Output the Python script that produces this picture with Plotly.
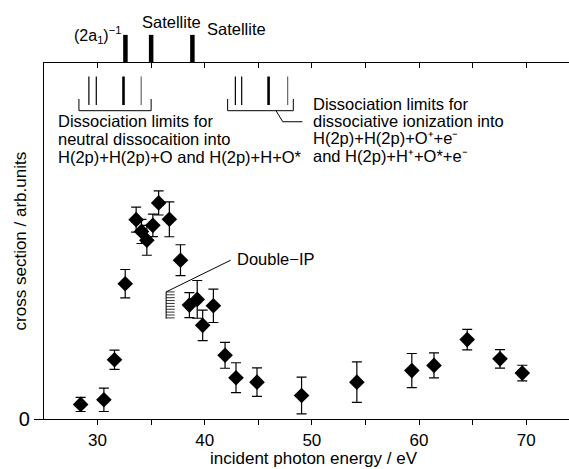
import plotly.graph_objects as go

# ---- data ----
energy = [28.42, 30.59, 31.58, 32.58, 33.6, 34.1, 34.6, 35.16, 35.7, 36.7, 37.74,
          38.57, 39.3, 39.81, 40.81, 41.9, 42.92, 44.88, 49.04, 54.2, 59.33, 61.4,
          64.5, 67.56, 69.64]
cross_section = [4.1, 5.4, 16.65, 38.0, 56.0, 52.7, 50.2, 54.4, 60.7, 56.1, 44.6,
                 32.0, 33.6, 26.3, 31.8, 17.9, 11.6, 10.35, 6.6, 10.35, 13.6, 15.05,
                 22.3, 16.9, 12.9]
error = [2.0, 3.3, 2.7, 4.0, 3.5, 3.4, 4.2, 3.15, 3.4, 4.9, 4.35, 3.5, 5.3, 4.3,
         4.7, 3.65, 4.2, 4.0, 5.15, 5.7, 4.8, 3.5, 2.9, 2.6, 2.2]

x_tickvals = [30, 40, 50, 60, 70]
x_ticktext = ["30", "40", "50", "60", "70"]
x_minor_vals = [30, 35, 40, 45, 50, 55, 60, 65, 70]
top_tickvals = [30, 35, 40, 45, 50, 55, 60, 65, 70]

# ionization energies marked above the plot
ion_energies = [32.6, 35.0, 38.85]
# dissociation limits (eV): neutral / dissociative ionization
neutral_limits = [29.19, 29.88, 32.42, 34.07]
ionic_limits = [42.86, 43.45, 45.96, 47.74]
limit_widths = [1.2, 1.2, 2.6, 1.2]
limit_colors = ["black", "black", "black", "#666666"]
neutral_bracket = [28.26, 35.0]
ionic_bracket = [42.14, 48.27]
double_ip = 36.4

FONT = "Arial, Liberation Sans, Helvetica, sans-serif"

fig = go.Figure()
fig.add_trace(go.Scatter(
    x=energy, y=cross_section, mode="markers",
    marker=dict(symbol="diamond", size=12, color="black"),
    error_y=dict(type="data", array=error, visible=True, color="black",
                 thickness=1.2, width=5),
    showlegend=False, hoverinfo="skip"))
# invisible trace so the top axis is drawn
fig.add_trace(go.Scatter(x=[30], y=[0], xaxis="x2", mode="markers",
                         marker=dict(opacity=0), showlegend=False, hoverinfo="skip"))

shapes = []
# thick bars above the top axis
for e in ion_energies:
    shapes.append(dict(type="line", xref="x", yref="paper", x0=e, x1=e,
                       y0=1.0, y1=1.079, line=dict(color="black", width=4.5)))
# dissociation limit lines
for group in (neutral_limits, ionic_limits):
    for e, w, c in zip(group, limit_widths, limit_colors):
        shapes.append(dict(type="line", xref="x", yref="y", x0=e, x1=e,
                           y0=88.2, y1=96.2, line=dict(color=c, width=w)))
# brackets
for b0, b1 in (neutral_bracket, ionic_bracket):
    shapes.append(dict(type="path", xref="x", yref="y",
                       path=f"M {b0},89.9 L {b0},86.6 L {b1},86.6 L {b1},89.9",
                       line=dict(color="black", width=1)))
# leader line for the ionic bracket
shapes.append(dict(type="path", xref="x", yref="y",
                   path="M 46.66,86.6 L 47.28,83.5 L 49.12,83.5",
                   line=dict(color="black", width=1)))
# Double-IP marker: vertical line + hatch + diagonal leader
shapes.append(dict(type="line", xref="x", yref="y", x0=double_ip, x1=double_ip,
                   y0=28.2, y1=35.7, line=dict(color="black", width=1)))
shapes.append(dict(type="line", xref="x", yref="y", x0=double_ip, x1=42.42,
                   y0=35.7, y1=44.6, line=dict(color="black", width=1)))
n_hatch = 10
for i in range(n_hatch):
    yy = 28.4 + i * (35.7 - 28.4) / (n_hatch - 1)
    shapes.append(dict(type="line", xref="x", yref="y", x0=double_ip,
                       x1=double_ip + 0.8, y0=yy, y1=yy,
                       line=dict(color="black", width=0.8)))

ann = []
def txt(x, y, s, size=16.5, xanchor="left", xref="x", yref="y", yanchor="middle",
        angle=0, pad=1):
    ann.append(dict(x=x, y=y, xref=xref, yref=yref, text=s, showarrow=False,
                    xanchor=xanchor, yanchor=yanchor, textangle=angle, borderpad=pad,
                    font=dict(family=FONT, size=size, color="black")))

txt(32.33, 1.08, "(2a<sub>1</sub>)<sup>−1</sup>", size=16, xanchor="right", yref="paper")
txt(33.92, 1.115, "Satellite", yref="paper")
txt(40.07, 1.096, "Satellite", yref="paper")

left_lines = ["Dissociation limits for", "neutral dissocaition into",
              "H(2p)+H(2p)+O and H(2p)+H+O*"]
for i, s in enumerate(left_lines):
    txt(26.18, 83.6 - i * 5.0, s, pad=0)
right_lines = ["Dissociation limits for", "dissociative ionization into",
               "H(2p)+H(2p)+O\u207a+e\u207b",
               "and H(2p)+H\u207a+O*+e\u207b"]
for i, s in enumerate(right_lines):
    txt(50.05, 88.4 - i * 4.8, s, pad=0)

txt(42.87, 44.9, "Double−IP")

# axis titles
txt(0.514, -0.1405, "incident photon energy / eV", size=17, xanchor="center",
    xref="paper", yref="paper", yanchor="bottom", pad=0)
txt(-0.045, 0.5, "cross section / arb.units", size=17, xanchor="center",
    xref="paper", yref="paper", angle=-90)

fig.update_layout(
    width=569, height=469,
    margin=dict(l=44, r=0, t=63, b=50),
    plot_bgcolor="white", paper_bgcolor="white",
    font=dict(family=FONT, color="black"),
    shapes=shapes, annotations=ann,
    xaxis=dict(range=[25, 74], showline=True, linecolor="black", linewidth=1.3,
               ticks="outside", ticklen=5, tickwidth=1.2, tickcolor="black",
               tickvals=x_tickvals, ticktext=x_ticktext,
               minor=dict(tickvals=x_minor_vals, ticks="outside", ticklen=5,
                          tickwidth=1.2, tickcolor="black", showgrid=False),
               tickfont=dict(size=17, family=FONT, color="black"),
               showgrid=False, zeroline=False),
    xaxis2=dict(range=[25, 74], overlaying="x", side="top", anchor="y",
                showline=True, linecolor="black", linewidth=1.3,
                ticks="inside", ticklen=5, tickwidth=1.2, tickcolor="black",
                tickvals=top_tickvals, showticklabels=False,
                showgrid=False, zeroline=False),
    yaxis=dict(range=[0, 100], showline=True, linecolor="black", linewidth=1.3,
               ticks="outside", ticklen=9, tickwidth=1.2, tickcolor="black",
               tickvals=[0], ticktext=["0"],
               tickfont=dict(size=20, family=FONT, color="black"),
               showgrid=False, zeroline=False),
)

fig.write_html("out.html",
               config={"displayModeBar": False},
               post_script="document.body.style.margin='0px';"
                           "document.body.style.overflow='hidden';")
